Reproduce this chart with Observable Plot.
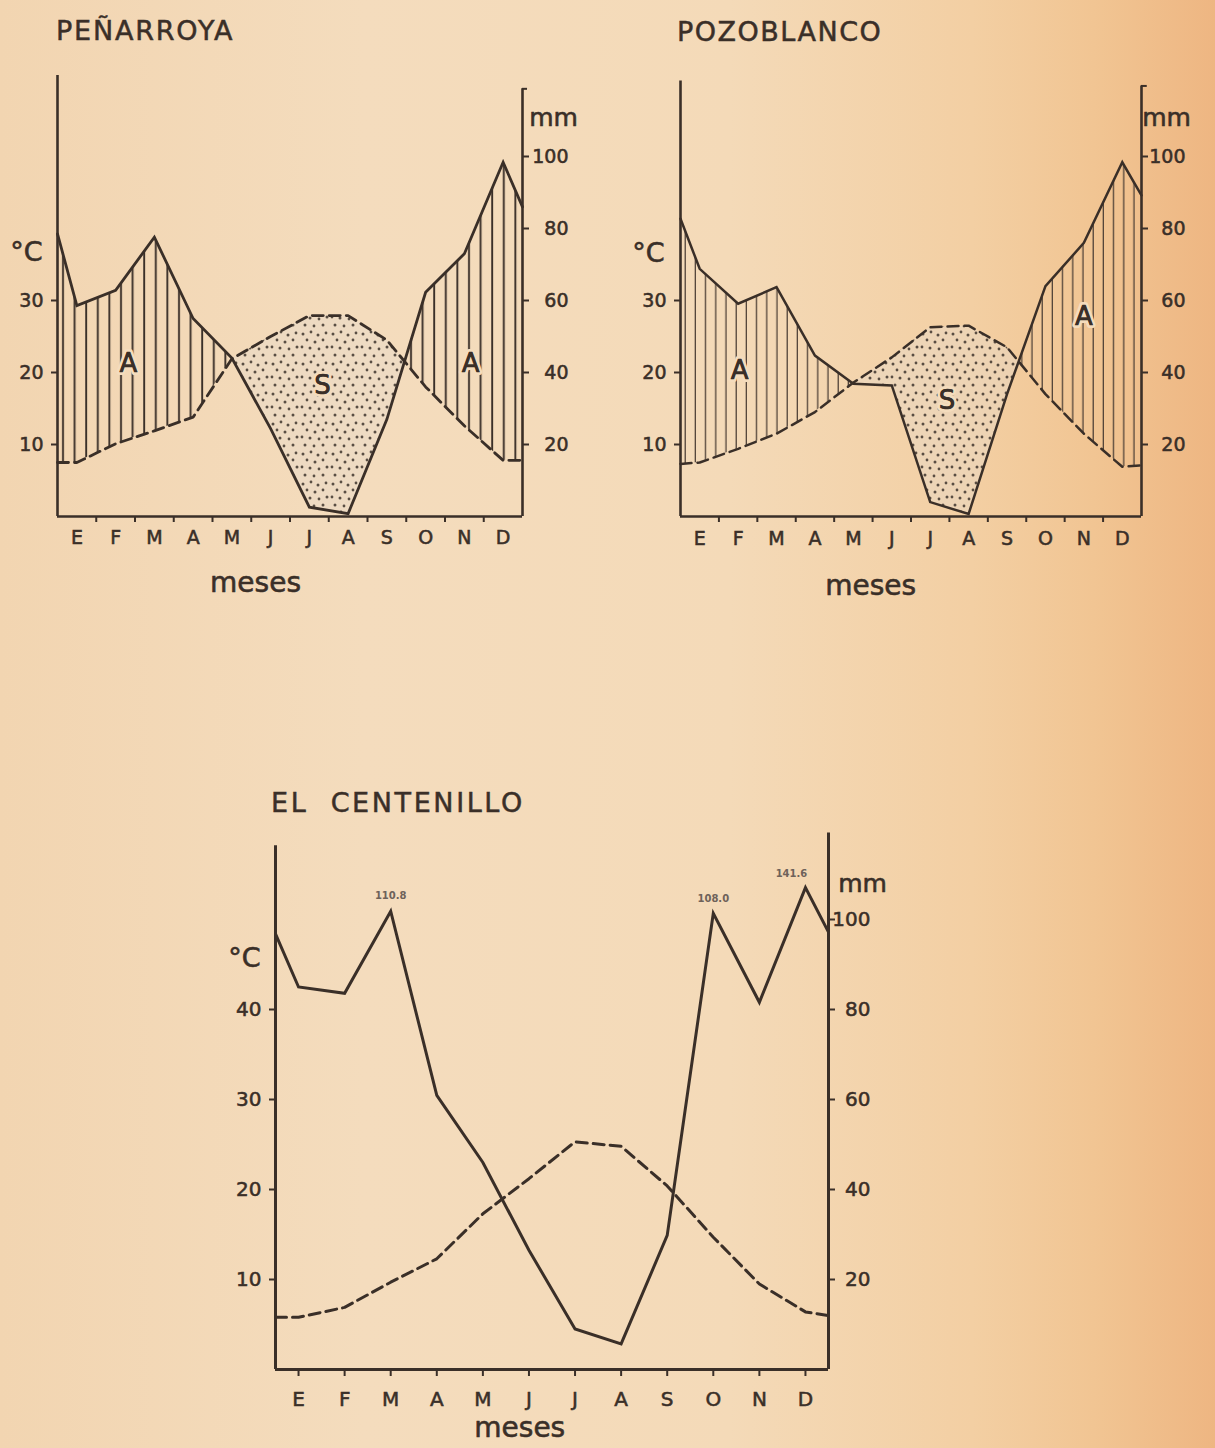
<!DOCTYPE html>
<html>
<head>
<meta charset="utf-8">
<script src="https://cdn.jsdelivr.net/npm/d3@7"></script>
<script src="https://cdn.jsdelivr.net/npm/@observablehq/plot@0.6"></script>
<style>
  html, body { margin: 0; padding: 0; }
  body {
    width: 1215px; height: 1448px; position: relative; overflow: hidden;
    background: linear-gradient(90deg, #f2d5b1 0%, #f4dcbd 30%, #f4dab8 60%, #f3cfa3 80%, #f1c593 90%, #eeb682 100%);
    font-family: "DejaVu Sans", sans-serif; color: #3a2f28;
  }
  .title { position: absolute; font-size: 27px; line-height: 27px; letter-spacing: 1.8px; white-space: nowrap;
    -webkit-text-stroke: 0.5px #3a2f28; }
  .chart { position: absolute; }
  .chart g[aria-label$="tick label"] { stroke: #3a2f28; stroke-width: 0.55px; }
</style>
</head>
<body>
<svg width="0" height="0" style="position:absolute">
  <defs>
    <pattern id="hatchP" patternUnits="userSpaceOnUse" width="11.6" height="10">
      <line x1="5" y1="0" x2="5" y2="10" stroke="#3a2f28" stroke-width="1.9"/>
    </pattern>
    <pattern id="hatchZ" patternUnits="userSpaceOnUse" width="10.2" height="10">
      <line x1="4" y1="0" x2="4" y2="10" stroke="#4e4036" stroke-width="1.3"/>
    </pattern>
    <pattern id="stipple" patternUnits="userSpaceOnUse" width="30" height="30">
      <rect width="30" height="30" fill="#e6dacb" opacity="0.45"/>
      <g fill="#3f342c" opacity="0.85">
        <circle cx="3" cy="4" r="1.5"/><circle cx="11" cy="2" r="1.4"/><circle cx="18" cy="5" r="1.5"/>
        <circle cx="26" cy="3" r="1.4"/><circle cx="7" cy="10" r="1.4"/><circle cx="15" cy="12" r="1.5"/>
        <circle cx="23" cy="10" r="1.4"/><circle cx="2" cy="17" r="1.4"/><circle cx="10" cy="18" r="1.5"/>
        <circle cx="19" cy="19" r="1.4"/><circle cx="27" cy="17" r="1.5"/><circle cx="5" cy="25" r="1.5"/>
        <circle cx="14" cy="26" r="1.4"/><circle cx="23" cy="25" r="1.5"/>
      </g>
    </pattern>
  </defs>
</svg>

<div class="title" style="left:56px;top:17px">PEÑARROYA</div>
<div class="title" style="left:677px;top:18px;letter-spacing:1.5px">POZOBLANCO</div>
<div class="title" style="left:271px;top:789px;letter-spacing:2.6px">EL&nbsp;&nbsp;CENTENILLO</div>

<div id="c1" class="chart" style="left:0px;top:0px"></div>
<div id="c2" class="chart" style="left:620px;top:0px"></div>
<div id="c3" class="chart" style="left:200px;top:760px"></div>

<script>
// ---------- DATA ----------
const months = ["E", "F", "M", "A", "M", "J", "J", "A", "S", "O", "N", "D"];
const tempTicks = [10, 20, 30];
const tempTicksCentenillo = [10, 20, 30, 40];
const mmTicks = [20, 40, 60, 80, 100];

// Peñarroya: monthly precipitation (mm) and temperature (°C); edge values at the two axes
const penarroyaPrecip = [58.6, 62.8, 77.6, 55.0, 44.0, 24.4, 2.6, 0.8, 27.0, 62.3, 73.0, 98.4];
const penarroyaPrecipEdges = [78.5, 86.0];
const penarroyaTemp = [7.5, 10.1, 11.9, 13.8, 21.9, 25.0, 27.9, 27.9, 24.5, 18.0, 12.6, 7.8];
const penarroyaTempEdges = [7.5, 7.8];
const penarroyaZones = [
  {label: "A", month: 2.33, value: 21.2},
  {label: "S", month: 7.34, value: 18.2},
  {label: "A", month: 11.16, value: 21.2}
];

// Pozoblanco
const pozoblancoPrecip = [68.8, 59.1, 63.7, 44.7, 36.9, 36.4, 4.0, 0.7, 34.0, 64.0, 76.0, 98.4];
const pozoblancoPrecipEdges = [82.7, 89.2];
const pozoblancoTemp = [7.5, 9.4, 11.5, 14.5, 18.6, 22.1, 26.3, 26.5, 23.5, 17.0, 11.5, 6.9];
const pozoblancoTempEdges = [7.3, 7.1];
const pozoblancoZones = [
  {label: "A", month: 2.04, value: 20.3},
  {label: "S", month: 7.44, value: 16.1},
  {label: "A", month: 11.0, value: 27.8}
];

// El Centenillo
const centenilloPrecip = [85.0, 83.6, 110.8, 60.9, 46.0, 26.5, 9.0, 5.7, 29.8, 108.0, 81.6, 141.6];
const centenilloPrecipEdges = [96.8, 97.2];
const centenilloTemp = [5.8, 6.9, 9.7, 12.3, 17.3, 21.2, 25.3, 24.8, 20.4, 14.7, 9.5, 6.4];
const centenilloTempEdges = [5.8, 6.0];

// ---------- HELPERS ----------
const ink = "#3a2f28";
const halo = "#f4dcbd";
// precipitation drawn on the temperature scale: 20 mm = 10 °C; above 100 mm a reduced scale
const mmPlain = mm => mm / 2;
const mmReduced = mm => (mm <= 100 ? mm : 100 + (mm - 100) * 0.17) / 2;

// add the points where the two curves cross, so the shaded zones meet exactly
function withCrossings(rows) {
  const out = [];
  for (let i = 0; i < rows.length; i++) {
    const a = rows[i];
    out.push(a);
    const b = rows[i + 1];
    if (!b) break;
    const da = a.p - a.t, db = b.p - b.t;
    if (da * db < 0) {
      const f = da / (da - db);
      out.push({x: a.x + f * (b.x - a.x), t: a.t + f * (b.t - a.t), p: a.p + f * (b.p - a.p)});
    }
  }
  return out;
}

function diagram(cfg) {
  const xs = [0.5, ...d3.range(1, 13), 12.5];
  const P = [cfg.precipEdges[0], ...cfg.precip, cfg.precipEdges[1]];
  const T = [cfg.tempEdges[0], ...cfg.temp, cfg.tempEdges[1]];
  const rows = xs.map((x, i) => ({x, mm: P[i], p: cfg.mmY(P[i]), t: T[i]}));
  const marks = [];

  if (cfg.shade) {
    const rs = withCrossings(rows);
    marks.push(Plot.areaY(rs, {x: "x", y1: "t", y2: d => Math.max(d.p, d.t), fill: `url(#${cfg.hatch})`}));
    marks.push(Plot.areaY(rs, {x: "x", y1: "p", y2: d => Math.max(d.p, d.t), fill: "url(#stipple)"}));
  }

  const boldText = {stroke: ink, strokeWidth: 0.6};
  marks.push(
    Plot.line(rows, {x: "x", y: "p", stroke: ink, strokeWidth: cfg.lw, strokeLinejoin: "miter", strokeMiterlimit: 8}),
    Plot.line(rows, {x: "x", y: "t", stroke: ink, strokeWidth: cfg.lw, strokeDasharray: "11,6", strokeLinejoin: "round"}),
    // frame
    Plot.ruleX([0.5], {y1: 0, y2: cfg.leftTop, stroke: ink, strokeWidth: cfg.aw}),
    Plot.ruleX([12.5], {y1: 0, y2: cfg.rightTop, stroke: ink, strokeWidth: cfg.aw}),
    Plot.ruleY([0], {x1: 0.5, x2: 12.5, stroke: ink, strokeWidth: cfg.aw}),
    // axes
    Plot.axisY({anchor: "left", ticks: cfg.tTicks, tickSize: 6, tickPadding: 8, fontSize: cfg.fs,
      color: ink, strokeWidth: 2, label: null}),
    Plot.axisY({anchor: "right", ticks: mmTicks.map(cfg.mmY), tickFormat: d => String(Math.round(d * 2)),
      tickSize: 6, tickPadding: cfg.rightPad, textAnchor: "end", fontSize: cfg.fs, color: ink, strokeWidth: 2, label: null}),
    Plot.axisX({ticks: d3.range(1, 13), tickFormat: i => months[i - 1], tickSize: cfg.centerTicks ? 7 : 0,
      tickPadding: cfg.monthPad, fontSize: cfg.fs, color: ink, strokeWidth: 2, label: null}),
    // axis titles
    Plot.text(["°C"], {x: 0.5, y: cfg.cY, dx: cfg.cDx, fontSize: 27, fill: ink, ...boldText}),
    Plot.text(["mm"], {x: 12.5, y: cfg.mmLabelY, dx: cfg.mmDx, fontSize: 25, fill: ink, ...boldText}),
    Plot.text(["meses"], {x: cfg.mesesX, y: 0, dy: cfg.mesesDy, fontSize: 28, fill: ink, letterSpacing: 1, ...boldText})
  );

  if (!cfg.centerTicks) {
    marks.push(Plot.axisX({ticks: d3.range(1.5, 12, 1), tickFormat: () => "", tickSize: 6,
      color: ink, strokeWidth: 2, label: null}));
  }
  if (cfg.bracket) {
    marks.push(Plot.ruleY([cfg.rightTop], {x1: 12.5, x2: 12.5 + cfg.bracket, stroke: ink, strokeWidth: 2}));
  }
  if (cfg.zones) {
    marks.push(Plot.text(cfg.zones, {x: "month", y: "value", text: "label", fontSize: 26, fill: ink,
      stroke: halo, strokeWidth: 6}));
    marks.push(Plot.text(cfg.zones, {x: "month", y: "value", text: "label", fontSize: 26, fill: ink,
      stroke: ink, strokeWidth: 0.6}));
  }
  if (cfg.peakLabels) {
    const big = rows.filter(d => d.mm > 100);
    marks.push(Plot.text(big.filter(d => d.x < 12), {x: "x", y: "p", text: d => d.mm.toFixed(1), dy: -15,
      fontSize: 10, fontWeight: "bold", fill: "#6e625a"}));
    marks.push(Plot.text(big.filter(d => d.x >= 12), {x: "x", y: "p", text: d => d.mm.toFixed(1), dy: -14, dx: -14,
      fontSize: 10, fontWeight: "bold", fill: "#6e625a"}));
  }

  return Plot.plot({
    width: cfg.width, height: cfg.height,
    marginLeft: cfg.ml, marginRight: cfg.mr, marginTop: cfg.mt, marginBottom: cfg.mb,
    x: {domain: [0.5, 12.5], label: null},
    y: {domain: [0, 60], label: null},
    style: {background: "transparent", overflow: "visible", fontFamily: "DejaVu Sans, sans-serif", color: ink},
    marks
  });
}

document.getElementById("c1").append(diagram({
  precip: penarroyaPrecip, precipEdges: penarroyaPrecipEdges,
  temp: penarroyaTemp, tempEdges: penarroyaTempEdges, zones: penarroyaZones,
  mmY: mmPlain, shade: true, hatch: "hatchP",
  width: 600, height: 620, ml: 57, mr: 78, mt: 84, mb: 104,
  leftTop: 61.25, rightTop: 59.4, bracket: 0.13,
  tTicks: tempTicks, fs: 19, rightPad: 40, monthPad: 14, lw: 2.8, aw: 2.6,
  cY: 36.7, cDx: -31, mmLabelY: 55.4, mmDx: 31, mesesX: 5.61, mesesDy: 67
}));

document.getElementById("c2").append(diagram({
  precip: pozoblancoPrecip, precipEdges: pozoblancoPrecipEdges,
  temp: pozoblancoTemp, tempEdges: pozoblancoTempEdges, zones: pozoblancoZones,
  mmY: mmPlain, shade: true, hatch: "hatchZ",
  width: 595, height: 620, ml: 60, mr: 74, mt: 84, mb: 104,
  leftTop: 60.5, rightTop: 59.8, bracket: 0.15,
  tTicks: tempTicks, fs: 19, rightPad: 38, monthPad: 15, lw: 2.5, aw: 2.6,
  cY: 36.5, cDx: -32, mmLabelY: 55.3, mmDx: 25, mesesX: 5.45, mesesDy: 70
}));

document.getElementById("c3").append(diagram({
  precip: centenilloPrecip, precipEdges: centenilloPrecipEdges,
  temp: centenilloTemp, tempEdges: centenilloTempEdges,
  mmY: mmReduced, shade: false, peakLabels: true, centerTicks: true,
  width: 720, height: 688, ml: 75, mr: 92, mt: 69, mb: 79,
  leftTop: 58.2, rightTop: 59.6,
  tTicks: tempTicksCentenillo, fs: 20, rightPad: 36, monthPad: 15, lw: 3, aw: 3,
  cY: 45.7, cDx: -31, mmLabelY: 53.9, mmDx: 34, mesesX: 5.8, mesesDy: 59
}));
</script>
</body>
</html>
